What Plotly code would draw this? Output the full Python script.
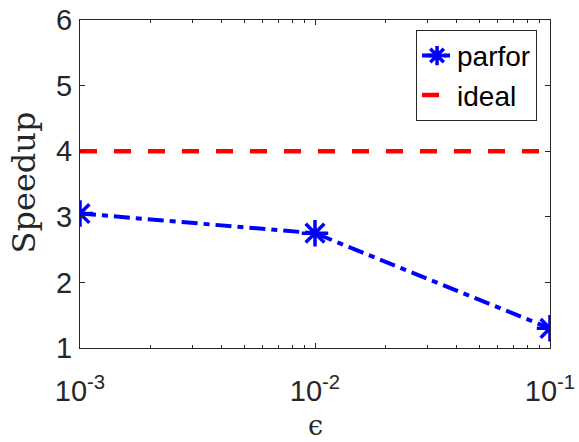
import plotly.graph_objects as go

eps = [1e-3, 1e-2, 1e-1]
parfor = [3.05, 2.75, 1.3]
ideal_x = [1e-3, 1e-1]
ideal_y = [4, 4]
xtick_vals = [1e-3, 1e-2, 1e-1]
xtick_text = ["10<sup>-3</sup>", "10<sup>-2</sup>", "10<sup>-1</sup>"]
xminor_vals = [k * 1e-3 for k in range(2, 10)] + [k * 1e-2 for k in range(2, 10)]
ytick_vals = [1, 2, 3, 4, 5, 6]

TICKFONT = dict(family="Liberation Sans, Arial", size=29, color="#262626")

fig = go.Figure()
fig.add_trace(go.Scatter(
    x=eps, y=parfor, name="parfor", mode="lines+markers",
    line=dict(color="#0000FF", width=4, dash="16px,6px,6px,6px"),
    marker=dict(symbol="asterisk-open", size=22, color="#0000FF",
                line=dict(color="#0000FF", width=3.5)),
))
fig.add_trace(go.Scatter(
    x=ideal_x, y=ideal_y, name="ideal", mode="lines",
    line=dict(color="#FF0000", width=4.5, dash="17px,17px"),
))

axis_common = dict(
    showline=True, linecolor="#262626", linewidth=1, mirror="ticks",
    ticks="inside", ticklen=5, tickcolor="#262626", showgrid=False,
    zeroline=False, automargin=False, tickfont=TICKFONT,
    ticklabeloverflow="allow",
)

fig.update_xaxes(
    type="log", range=[-3, -1], tickvals=xtick_vals, ticktext=xtick_text,
    ticklabelstandoff=17,
    minor=dict(tickvals=xminor_vals, ticks="inside", ticklen=3,
               tickcolor="#262626", showgrid=False),
    **axis_common,
)
fig.update_yaxes(
    range=[1, 6], tickvals=ytick_vals, ticklabelstandoff=1,
    **axis_common,
)

fig.add_annotation(
    text="Speedup", xref="paper", yref="paper", x=-0.119, y=0.505,
    textangle=-90, showarrow=False, xanchor="center", yanchor="middle",
    font=dict(family="DejaVu Serif, serif", size=32, color="#262626"),
)
fig.add_annotation(
    text="ϵ", xref="paper", yref="paper", x=0.5, y=-0.236,
    showarrow=False, xanchor="center", yanchor="middle",
    font=dict(family="DejaVu Serif, serif", size=27, color="#262626"),
)

fig.update_layout(
    width=579, height=442,
    margin=dict(l=80, r=29, t=20, b=94),
    plot_bgcolor="white", paper_bgcolor="white",
    legend=dict(
        x=0.715, y=0.97, xanchor="left", yanchor="top",
        bordercolor="#262626", borderwidth=1, bgcolor="white",
        font=dict(family="Liberation Sans, Arial", size=28, color="#000000"),
        itemwidth=30, tracegroupgap=0,
    ),
    showlegend=True,
)

# remove the browser's default 8px body margin so the figure fills the window
fig.write_html("out.html", config={"displayModeBar": False},
               post_script="document.body.style.margin='0';")
